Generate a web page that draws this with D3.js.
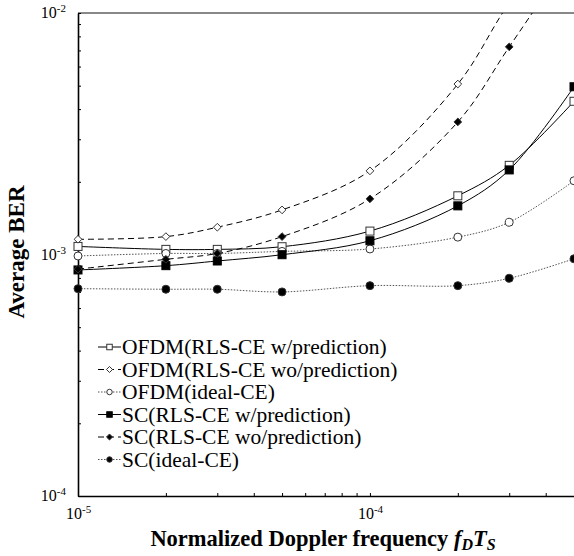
<!DOCTYPE html>
<html><head><meta charset="utf-8">
<script src="https://cdn.jsdelivr.net/npm/d3@7"></script>
<style>
html,body{margin:0;padding:0;background:#fff;}
svg{display:block;}
</style></head>
<body><svg id="c" width="574" height="556"></svg>
<script>
// ---- data ----
const doppler = [1e-5, 2e-5, 3e-5, 5e-5, 1e-4, 2e-4, 3e-4, 5e-4];
const ofdmPred   = [1.08e-3, 1.05e-3, 1.05e-3, 1.077e-3, 1.25e-3, 1.75e-3, 2.34e-3, 4.31e-3];
const ofdmNoPred = [1.156e-3, 1.186e-3, 1.297e-3, 1.53e-3, 2.22e-3, 5.08e-3, 1.1e-2, 2.4e-2];
const ofdmIdeal  = [9.86e-4, 1.01e-3, 1.01e-3, 1.03e-3, 1.054e-3, 1.18e-3, 1.36e-3, 2.02e-3];
const scPred     = [8.63e-4, 8.99e-4, 9.4e-4, 9.98e-4, 1.14e-3, 1.59e-3, 2.24e-3, 4.95e-3];
const scNoPred   = [8.7e-4, 9.55e-4, 1.01e-3, 1.186e-3, 1.70e-3, 3.54e-3, 7.24e-3, 1.8e-2];
const scIdeal    = [7.22e-4, 7.18e-4, 7.18e-4, 7.0e-4, 7.43e-4, 7.43e-4, 7.97e-4, 9.6e-4];
const seriesNames = ["OFDM(RLS-CE w/prediction)", "OFDM(RLS-CE wo/prediction)", "OFDM(ideal-CE)",
                     "SC(RLS-CE w/prediction)", "SC(RLS-CE wo/prediction)", "SC(ideal-CE)"];
const xTickValues = [1e-5, 1e-4];
const xTickExp = ["-5", "-4"];
const yTickValues = [1e-4, 1e-3, 1e-2];
const yTickExp = ["-4", "-3", "-2"];

const FONT = '"Liberation Serif", "Times New Roman", serif';
const styles = [
  {dash: null, stroke: "#000", marker: "square", fill: "#fff"},
  {dash: "6,4", stroke: "#000", marker: "diamond", fill: "#fff"},
  {dash: "1.5,1.5", stroke: "#555", marker: "circle", fill: "#fff"},
  {dash: null, stroke: "#000", marker: "square", fill: "#000"},
  {dash: "6,4", stroke: "#000", marker: "diamond", fill: "#000"},
  {dash: "1.5,1.5", stroke: "#555", marker: "circle", fill: "#000"}
];
const seriesVals = [ofdmPred, ofdmNoPred, ofdmIdeal, scPred, scNoPred, scIdeal];

const L = 78, R = 574, T = 13, B = 496;
const svg = d3.select("#c");
const x = d3.scaleLog().domain([1e-5, 5e-4]).range([L, R]);
const y = d3.scaleLog().domain([1e-4, 1e-2]).range([B, T]);

svg.append("defs").append("clipPath").attr("id", "clip")
  .append("rect").attr("x", 0).attr("y", T).attr("width", 600).attr("height", B - T);

// top border
svg.append("line").attr("x1", L).attr("x2", R).attr("y1", T).attr("y2", T)
  .attr("stroke", "#888").attr("stroke-width", 2);

// minor ticks
const yMinor = [];
for (let e = -4; e < -2; e++) for (let m = 2; m <= 9; m++) yMinor.push(m * Math.pow(10, e));
const xMinor = [];
for (let e = -5; e < -3; e++) for (let m = 2; m <= 9; m++) { const v = m * Math.pow(10, e); if (v <= 5e-4) xMinor.push(v); }

const yAxis = svg.append("g").attr("transform", `translate(${L},0)`)
  .call(d3.axisRight(y).tickValues(yTickValues.concat(yMinor)).tickSize(3).tickFormat("").tickSizeOuter(0));
yAxis.select(".domain").attr("stroke", "#000").attr("stroke-width", 1.6);
yAxis.selectAll(".tick line").attr("stroke", "#000").attr("stroke-width", 1);

const xAxis = svg.append("g").attr("transform", `translate(0,${B})`)
  .call(d3.axisTop(x).tickValues(xTickValues.concat(xMinor)).tickSize(3).tickFormat("").tickSizeOuter(0));
xAxis.select(".domain").attr("stroke", "#000").attr("stroke-width", 1.6);
xAxis.selectAll(".tick line").attr("stroke", "#000");

// tick labels
yTickValues.forEach((v, i) => {
  const t = svg.append("text").attr("x", 66).attr("y", y(v) + 5).attr("text-anchor", "end")
    .style("font-family", FONT).attr("font-size", 16);
  t.append("tspan").text("10");
  t.append("tspan").attr("font-size", 11).attr("dy", -6).text(yTickExp[i]);
});
xTickValues.forEach((v, i) => {
  const t = svg.append("text").attr("x", x(v) - 12).attr("y", 519).style("font-family", FONT).attr("font-size", 16);
  t.append("tspan").text("10");
  t.append("tspan").attr("font-size", 11).attr("dy", -6).text(xTickExp[i]);
});

// axis titles
svg.append("text").attr("transform", "translate(24,252) rotate(-90)").attr("text-anchor", "middle")
  .style("font-family", FONT).attr("font-size", 23).attr("font-weight", "bold").text("Average BER");
const xt = svg.append("text").attr("x", 323).attr("y", 546).attr("text-anchor", "middle")
  .style("font-family", FONT).attr("font-size", 22.5).attr("font-weight", "bold");
xt.append("tspan").text("Normalized Doppler frequency ");
xt.append("tspan").attr("font-style", "italic").text("f");
xt.append("tspan").attr("font-style", "italic").attr("font-size", 16).attr("dy", 4).text("D");
xt.append("tspan").attr("font-style", "italic").attr("dy", -4).text("T");
xt.append("tspan").attr("font-style", "italic").attr("font-size", 16).attr("dy", 4).text("S");

function drawMarker(g, type, cx, cy, fill, s) {
  if (type === "square") {
    g.append("rect").attr("x", cx - s / 2).attr("y", cy - s / 2).attr("width", s).attr("height", s)
      .attr("fill", fill).attr("stroke", fill === "#000" ? "#000" : "#333").attr("stroke-width", 1);
  } else if (type === "diamond") {
    const r = s * 0.55;
    g.append("path").attr("d", `M${cx},${cy - r}L${cx + r},${cy}L${cx},${cy + r}L${cx - r},${cy}Z`)
      .attr("fill", fill).attr("stroke", "#333").attr("stroke-width", 1);
  } else {
    g.append("circle").attr("cx", cx).attr("cy", cy).attr("r", s / 2)
      .attr("fill", fill).attr("stroke", "#333").attr("stroke-width", 1);
  }
}

const line = d3.line().x(d => x(d[0])).y(d => y(d[1])).curve(d3.curveCatmullRom.alpha(0.5));
const plot = svg.append("g").attr("clip-path", "url(#clip)");
const msize = {square: 8, diamond: 7, circle: 8};
seriesVals.forEach((vals, i) => {
  const st = styles[i];
  const pts = doppler.map((d, j) => [d, vals[j]]);
  plot.append("path").attr("d", line(pts)).attr("fill", "none").attr("stroke", st.stroke)
    .attr("stroke-width", 1).attr("stroke-dasharray", st.dash);
});
seriesVals.forEach((vals, i) => {
  const st = styles[i];
  doppler.forEach((d, j) => drawMarker(plot, st.marker, x(d), y(vals[j]), st.fill, msize[st.marker]));
});

// legend
const lg = svg.append("g");
seriesNames.forEach((name, i) => {
  const st = styles[i];
  const cy = 347 + i * 22.5;
  lg.append("line").attr("x1", 98).attr("x2", 121).attr("y1", cy).attr("y2", cy)
    .attr("stroke", st.stroke).attr("stroke-width", 1).attr("stroke-dasharray", st.dash);
  drawMarker(lg, st.marker, 109.5, cy, st.fill, 5.5);
  lg.append("text").attr("x", 122).attr("y", cy + 7).style("font-family", FONT).attr("font-size", 21.5).text(name);
});
</script></body></html>
